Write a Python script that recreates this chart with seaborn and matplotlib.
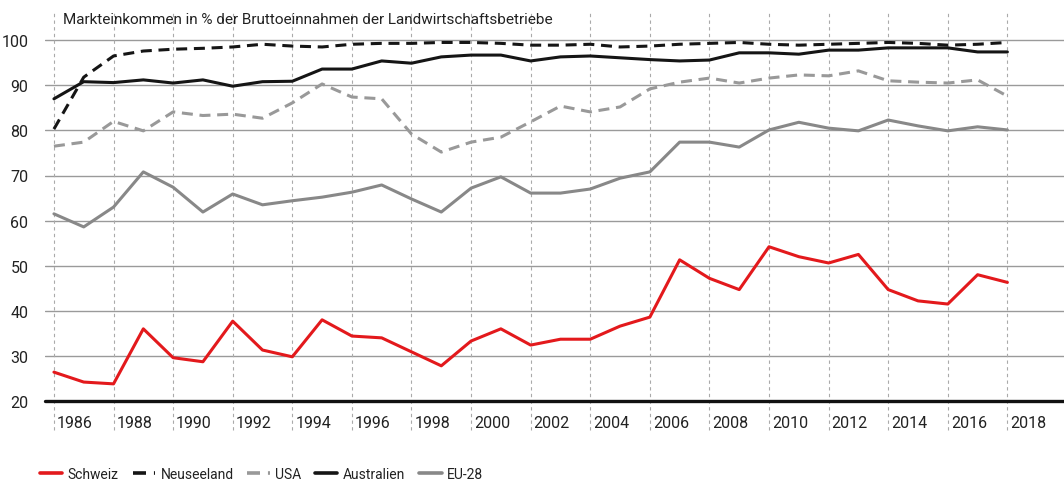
import numpy as np
import pandas as pd
import matplotlib
matplotlib.use("Agg")
import matplotlib.pyplot as plt
import matplotlib.transforms as mtransforms
import seaborn as sns

years = list(range(1986, 2019))
schweiz = [26.4, 24.2, 23.8, 36.0, 29.6, 28.7, 37.7, 31.3, 29.8, 38.0, 34.4, 34.0, 30.9, 27.8,
           33.3, 36.0, 32.4, 33.7, 33.7, 36.6, 38.6, 51.3, 47.2, 44.7, 54.2, 52.0, 50.6, 52.5,
           44.7, 42.2, 41.5, 48.0, 46.3]
neuseeland = [80.3, 91.8, 96.5, 97.6, 98.0, 98.2, 98.5, 99.1, 98.7, 98.5, 99.1, 99.3, 99.3, 99.5,
              99.5, 99.3, 98.9, 98.9, 99.1, 98.5, 98.7, 99.1, 99.3, 99.5, 99.1, 98.9, 99.1, 99.3,
              99.5, 99.3, 98.9, 99.1, 99.5]
usa = [76.5, 77.4, 82.0, 79.9, 84.1, 83.3, 83.6, 82.7, 86.1, 90.3, 87.4, 87.0, 79.2, 75.2,
       77.4, 78.5, 81.9, 85.4, 84.1, 85.2, 89.2, 90.7, 91.6, 90.5, 91.6, 92.3, 92.1, 93.2,
       91.0, 90.7, 90.5, 91.2, 87.6]
australien = [87.0, 90.8, 90.6, 91.2, 90.5, 91.2, 89.8, 90.8, 90.9, 93.6, 93.6, 95.4, 94.9, 96.3,
              96.7, 96.7, 95.4, 96.3, 96.5, 96.1, 95.7, 95.4, 95.6, 97.2, 97.2, 96.9, 97.8, 97.8,
              98.3, 98.3, 98.3, 97.4, 97.4]
eu28 = [61.5, 58.6, 63.0, 70.8, 67.4, 61.9, 65.9, 63.5, 64.4, 65.2, 66.3, 67.9, 64.8, 61.9,
        67.2, 69.7, 66.1, 66.1, 67.0, 69.4, 70.8, 77.4, 77.4, 76.3, 80.1, 81.8, 80.5, 79.9,
        82.3, 81.0, 79.9, 80.8, 80.1]

series_names = ["Schweiz", "Neuseeland", "USA", "Australien", "EU-28"]
series_values = [schweiz, neuseeland, usa, australien, eu28]
title = "Markteinkommen in % der Bruttoeinnahmen der Landwirtschaftsbetriebe"
x_ticks = list(range(1986, 2019, 2))
y_ticks = list(range(20, 101, 10))

df = pd.DataFrame(
    [(y, v, n) for n, vals in zip(series_names, series_values) for y, v in zip(years, vals)],
    columns=["Jahr", "Wert", "Land"],
)

sns.set_theme(style="white")
plt.rcParams["font.family"] = ["Roboto", "DejaVu Sans"]

fig = plt.figure(figsize=(10.64, 4.85), dpi=100)
ax = fig.add_axes([45 / 1064, 1 - 402 / 485, (1064 - 45) / 1064, (402 - 12) / 485])

palette = {"Schweiz": "#e3191c", "Neuseeland": "#151515", "USA": "#999999",
           "Australien": "#151515", "EU-28": "#888888"}
dashes = {"Schweiz": "", "Neuseeland": (3.6, 2.2), "USA": (3.6, 2.2),
          "Australien": "", "EU-28": ""}

sns.lineplot(data=df, x="Jahr", y="Wert", hue="Land", style="Land",
             hue_order=series_names, style_order=series_names,
             palette=palette, dashes=dashes, linewidth=2.2, ax=ax, legend=True)

ax.set_xlim(1985.7, 2019.9)
ax.set_ylim(20, 20 + (402 - 12) / 4.51)

# horizontal gridlines
for v in y_ticks[1:]:
    ax.axhline(v, color="#9a9a9a", lw=1.0, zorder=0)
ax.axhline(20, color="#111111", lw=2.4, zorder=3, clip_on=False)

# vertical dashed lines
for yr in x_ticks:
    ax.axvline(yr, ymin=-0.075, ymax=1.0, color="#aaaaaa", lw=0.8,
               ls=(0, (3, 3)), zorder=0, clip_on=False)

for s in ax.spines.values():
    s.set_visible(False)

ax.set_yticks(y_ticks)
ax.set_yticklabels([str(v) for v in y_ticks], fontsize=11.5, color="#222222")
ax.tick_params(axis="y", length=0, pad=12)
ax.set_xticks(x_ticks)
ax.set_xticklabels([str(v) for v in x_ticks], fontsize=11.5, color="#222222", ha="left")
ax.tick_params(axis="x", length=0, pad=10)
offset = mtransforms.ScaledTranslation(3 / 100, 0, fig.dpi_scale_trans)
for lab in ax.get_xticklabels():
    lab.set_transform(lab.get_transform() + offset)
ax.set_xlabel("")
ax.set_ylabel("")

ax.text(1986.3, 20 + (402 - 20) / 4.51, title, fontsize=11, color="#222222",
        ha="left", va="center")

handles, labels = ax.get_legend_handles_labels()
ax.legend_.remove()
leg = fig.legend(handles, labels, loc="center left", bbox_to_anchor=(40 / 1064, 1 - 475 / 485),
                 ncol=5, frameon=False, fontsize=10, handlelength=1.6, columnspacing=1.0,
                 handletextpad=0.4, borderpad=0, borderaxespad=0)
for h in leg.get_lines():
    h.set_linewidth(2.6)
for t in leg.get_texts():
    t.set_color("#222222")

fig.savefig("out.png", dpi=100)
